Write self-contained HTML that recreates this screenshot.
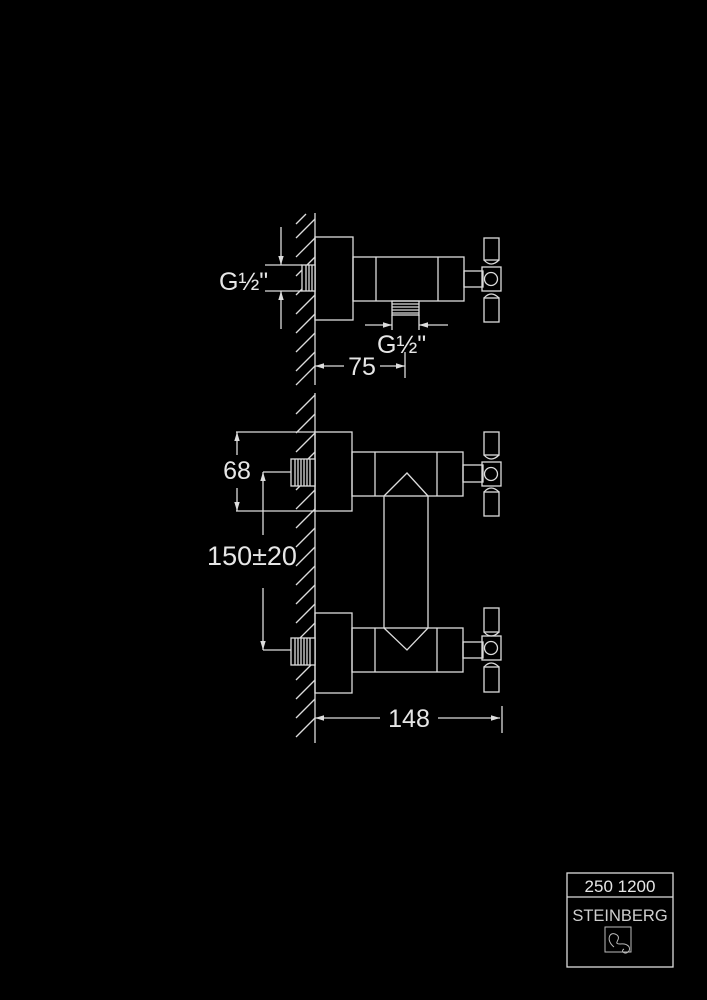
<!DOCTYPE html>
<html><head><style>
html,body{margin:0;padding:0;background:#000;width:707px;height:1000px;overflow:hidden}
svg{display:block}
text{font-family:"Liberation Sans",sans-serif;fill:#e6e6e6}
</style></head><body>
<svg width="707" height="1000" viewBox="0 0 707 1000">
<defs>
<marker id="ar" viewBox="0 0 10 10" refX="10" refY="5" markerWidth="9" markerHeight="9" orient="auto-start-reverse" markerUnits="userSpaceOnUse"><path d="M0,2 L10,5 L0,8 z" fill="#ddd"/></marker>
</defs>
<g stroke="#dcdcdc" stroke-width="1.3" fill="none">
<!-- TOP VIEW -->
<line x1="315" y1="213" x2="315" y2="385"/>
<line x1="296" y1="224" x2="306" y2="214"/>
<line x1="296" y1="238" x2="315" y2="219"/>
<line x1="296" y1="257" x2="315" y2="238"/>
<line x1="296" y1="276" x2="315" y2="257"/>
<line x1="296" y1="295" x2="315" y2="276"/>
<line x1="296" y1="314" x2="315" y2="295"/>
<line x1="296" y1="333" x2="315" y2="314"/>
<line x1="296" y1="352" x2="315" y2="333"/>
<line x1="296" y1="371" x2="315" y2="352"/>
<line x1="296" y1="385" x2="315" y2="366"/>
<rect x="315" y="237" width="38" height="83"/>
<rect x="353" y="257" width="111" height="44"/>
<line x1="376" y1="257" x2="376" y2="301"/>
<line x1="438" y1="257" x2="438" y2="301"/>
<rect x="464" y="271" width="19" height="16"/>
<rect x="484" y="238" width="15" height="22"/>
<rect x="482" y="267" width="19" height="24"/>
<path d="M484,260 Q491,268 499,260"/>
<path d="M484,298 Q491,290 499,298"/>
<circle cx="491" cy="279" r="6.5"/>
<rect x="484" y="298" width="15" height="24"/>
<rect x="302" y="265" width="13" height="26" fill="#000"/>
<line x1="306" y1="265" x2="306" y2="291"/><line x1="309" y1="265" x2="309" y2="291"/><line x1="312" y1="265" x2="312" y2="291"/>
<line x1="265" y1="265" x2="302" y2="265"/>
<line x1="265" y1="291" x2="302" y2="291"/>
<line x1="281" y1="227" x2="281" y2="265" marker-end="url(#ar)"/>
<line x1="281" y1="329" x2="281" y2="291" marker-end="url(#ar)"/>
<rect x="392" y="301" width="27" height="14"/>
<line x1="392" y1="304" x2="419" y2="304"/><line x1="392" y1="307" x2="419" y2="307"/><line x1="392" y1="310" x2="419" y2="310"/><line x1="392" y1="313" x2="419" y2="313"/>
<line x1="392" y1="315" x2="392" y2="330"/><line x1="419" y1="315" x2="419" y2="330"/>
<line x1="365" y1="325" x2="392" y2="325" marker-end="url(#ar)"/>
<line x1="448" y1="325" x2="419" y2="325" marker-end="url(#ar)"/>
<line x1="315" y1="366" x2="344" y2="366" marker-start="url(#ar)"/>
<line x1="380" y1="366" x2="405" y2="366" marker-end="url(#ar)"/>
<line x1="405" y1="352" x2="405" y2="378"/>

<!-- FRONT VIEW -->
<line x1="315" y1="393" x2="315" y2="743"/>
<line x1="296" y1="414" x2="315" y2="395"/>
<line x1="296" y1="433" x2="315" y2="414"/>
<line x1="296" y1="452" x2="315" y2="433"/>
<line x1="296" y1="471" x2="315" y2="452"/>
<line x1="296" y1="490" x2="315" y2="471"/>
<line x1="296" y1="509" x2="315" y2="490"/>
<line x1="296" y1="528" x2="315" y2="509"/>
<line x1="296" y1="547" x2="315" y2="528"/>
<line x1="296" y1="566" x2="315" y2="547"/>
<line x1="296" y1="585" x2="315" y2="566"/>
<line x1="296" y1="604" x2="315" y2="585"/>
<line x1="296" y1="623" x2="315" y2="604"/>
<line x1="296" y1="642" x2="315" y2="623"/>
<line x1="296" y1="661" x2="315" y2="642"/>
<line x1="296" y1="680" x2="315" y2="661"/>
<line x1="296" y1="699" x2="315" y2="680"/>
<line x1="296" y1="718" x2="315" y2="699"/>
<line x1="296" y1="737" x2="315" y2="718"/>
<rect x="315" y="432" width="37" height="79"/>
<rect x="315" y="613" width="37" height="80"/>
<rect x="352" y="452" width="111" height="44"/>
<rect x="352" y="628" width="111" height="44"/>
<line x1="375" y1="452" x2="375" y2="496"/><line x1="437" y1="452" x2="437" y2="496"/>
<line x1="375" y1="628" x2="375" y2="672"/><line x1="437" y1="628" x2="437" y2="672"/>
<line x1="384" y1="496" x2="384" y2="628"/><line x1="428" y1="496" x2="428" y2="628"/>
<polyline points="384,496 407,473 428,496"/>
<polyline points="384,628 407,650 428,628"/>
<rect x="463" y="465" width="20" height="17"/>
<rect x="463" y="642" width="20" height="16"/>
<rect x="484" y="432" width="15" height="23"/>
<rect x="482" y="462" width="19" height="24"/>
<path d="M484,455 Q491,463 499,455"/><path d="M484,492 Q491,484 499,492"/>
<circle cx="491" cy="474" r="6.5"/>
<rect x="484" y="492" width="15" height="24"/>
<rect x="484" y="608" width="15" height="24"/>
<rect x="482" y="636" width="19" height="24"/>
<path d="M484,632 Q491,640 499,632"/><path d="M484,667 Q491,659 499,667"/>
<circle cx="491" cy="648" r="6.5"/>
<rect x="484" y="667" width="15" height="25"/>
<rect x="291" y="459" width="24" height="27" fill="#000"/>
<line x1="295" y1="459" x2="295" y2="486"/><line x1="298" y1="459" x2="298" y2="486"/><line x1="301" y1="459" x2="301" y2="486"/><line x1="304" y1="459" x2="304" y2="486"/><line x1="307" y1="459" x2="307" y2="486"/><line x1="310" y1="459" x2="310" y2="486"/>
<rect x="291" y="638" width="24" height="27" fill="#000"/>
<line x1="295" y1="638" x2="295" y2="665"/><line x1="298" y1="638" x2="298" y2="665"/><line x1="301" y1="638" x2="301" y2="665"/><line x1="304" y1="638" x2="304" y2="665"/><line x1="307" y1="638" x2="307" y2="665"/><line x1="310" y1="638" x2="310" y2="665"/>
<line x1="236" y1="432" x2="315" y2="432"/>
<line x1="236" y1="511" x2="315" y2="511"/>
<line x1="237" y1="455" x2="237" y2="432" marker-end="url(#ar)"/>
<line x1="237" y1="488" x2="237" y2="511" marker-end="url(#ar)"/>
<line x1="263" y1="472" x2="291" y2="472"/>
<line x1="263" y1="650" x2="291" y2="650"/>
<line x1="263" y1="535" x2="263" y2="472" marker-end="url(#ar)"/>
<line x1="263" y1="588" x2="263" y2="650" marker-end="url(#ar)"/>
<line x1="315" y1="718" x2="380" y2="718" marker-start="url(#ar)"/>
<line x1="438" y1="718" x2="500" y2="718" marker-end="url(#ar)"/>
<line x1="502" y1="706" x2="502" y2="733"/>

<!-- title block -->
<rect x="567" y="873" width="106" height="94"/>
<line x1="567" y1="897" x2="673" y2="897"/>
<rect x="605" y="927" width="26" height="25" stroke="#bbb" stroke-width="1"/>
<path d="M614,947 C605,940 610,930 617,935 C622,939 612,944 620,944 C628,943 632,948 628,952 C625,955 620,951 624,949" stroke="#bbb" stroke-width="1"/>
</g>
<text x="219" y="290" font-size="25">G½"</text>
<text x="377" y="353" font-size="25">G½"</text>
<text x="362" y="375" font-size="25" text-anchor="middle">75</text>
<text x="237" y="479" font-size="25" text-anchor="middle">68</text>
<text x="252" y="565" font-size="27" text-anchor="middle">150±20</text>
<text x="409" y="727" font-size="25" text-anchor="middle">148</text>
<text x="620" y="892" font-size="17" text-anchor="middle">250 1200</text>
<text x="620" y="921" font-size="16.5" text-anchor="middle" style="fill:#cfcfcf">STEINBERG</text>
</svg>
</body></html>
